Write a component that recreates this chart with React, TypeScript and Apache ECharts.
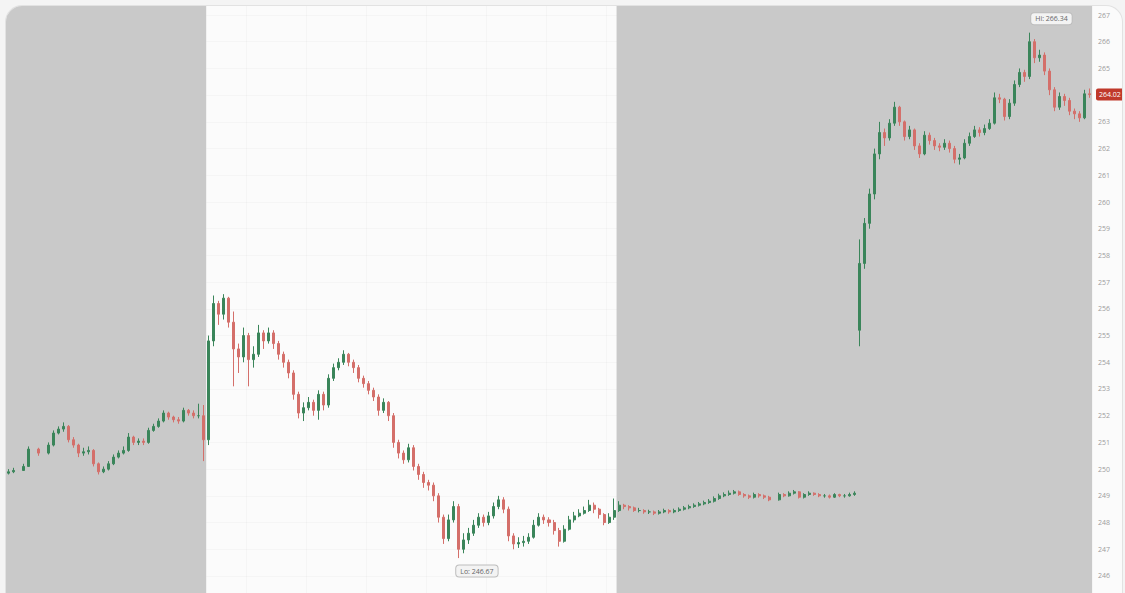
import React, { useEffect, useRef } from "react";
import * as echarts from "echarts";

// Candle closes, one per bar (null = no trade in that bar)
const closes: (number | null)[] = [
  249.9, 249.95, null, 250.1, 250.75, null, 250.6, null, 250.9, 251.35,
  251.5, 251.6, 251.1, 250.9, 250.6, 250.65, 250.7, 250.2, 249.9, 250.0,
  250.2, 250.45, 250.6, 250.7, 251.2, 251.0, 251.05, 251.0, 251.45, 251.6,
  251.8, 252.1, 251.95, 251.85, 251.8, 252.2, 252.1, 252.0, 252.0, 251.1,
  254.8, 256.2, 255.8, 256.4, 255.5, 254.5, 254.2, 255.0, 254.1, 254.3,
  255.1, 254.8, 255.1, 254.7, 254.3, 254.0, 253.6, 252.8, 252.1, 252.3,
  252.5, 252.2, 252.8, 252.4, 253.4, 253.8, 254.0, 254.3, 254.0, 253.8,
  253.4, 253.2, 252.95, 252.7, 252.2, 252.5, 252.0, 251.0, 250.6, 250.35,
  250.8, 250.1, 249.8, 249.5, 249.4, 249.0, 248.2, 247.4, 248.1, 248.6,
  247.0, 247.35, 247.6, 247.9, 248.2, 248.0, 248.25, 248.6, 248.85, 248.5,
  247.5, 247.2, 247.25, 247.3, 247.45, 247.9, 248.2, 248.1, 248.0, 247.7,
  247.3, 247.75, 248.1, 248.25, 248.35, 248.45, 248.65, 248.5, 248.3, 248.0,
  248.2, 248.45, 248.65, 248.6, 248.55, 248.45, 248.45, 248.4, 248.4, 248.35,
  248.4, 248.45, 248.4, 248.45, 248.5, 248.55, 248.6, 248.65, 248.7, 248.75,
  248.8, 248.9, 249.0, 249.05, 249.1, 249.15, 249.05, 249.0, 248.95, 249.05,
  249.0, 248.95, 248.85, null, 249.05, 249.0, 249.1, 249.15, 248.95, 249.05,
  249.1, 249.05, 249.0, 249.0, 248.95, 249.05, 249.0, 249.0, 249.05, 249.1,
  257.7, 259.2, 260.3, 261.8, 262.6, 262.4, 262.95, 263.55, 263.0, 262.45,
  262.7, 262.1, 261.8, 262.5, 262.3, 262.1, 262.05, 262.2, 262.0, 261.6,
  261.65, 262.2, 262.45, 262.7, 262.6, 262.75, 262.95, 263.9, 263.85, 263.2,
  263.7, 264.4, 264.85, 264.7, 266.0, 265.4, 265.5, 264.9, 264.2, 263.55,
  263.95, 263.8, 263.4, 263.3, 263.15, 264.05, 264.02,
];

const highs: (number | null)[] = [
  250.0, 250.05, null, 250.2, 250.85, null, 250.8, null, 251.0, 251.45,
  251.6, 251.75, 251.65, 251.2, 250.95, 250.8, 250.85, 250.75, 250.25, 250.1,
  250.3, 250.55, 250.7, 250.85, 251.35, 251.25, 251.15, 251.15, 251.55, 251.7,
  251.9, 252.2, 252.15, 252.0, 251.95, 252.3, 252.25, 252.2, 252.45, 252.4,
  255.0, 256.5, 256.3, 256.55, 256.45, 255.9, 254.7, 255.3, 255.1, 254.6,
  255.4, 255.2, 255.3, 255.2, 254.8, 254.4, 254.1, 253.7, 252.9, 252.5,
  252.7, 252.6, 252.95, 252.9, 253.55, 253.95, 254.15, 254.45, 254.35, 254.1,
  253.9, 253.5, 253.3, 253.05, 252.8, 252.65, 252.55, 252.1, 251.1, 250.7,
  250.95, 250.9, 250.2, 249.9, 249.6, 249.5, 249.1, 248.3, 248.3, 248.8,
  248.7, 247.6, 247.8, 248.1, 248.35, 248.3, 248.4, 248.75, 249.0, 248.95,
  248.6, 247.6, 247.45, 247.5, 247.6, 248.1, 248.35, 248.3, 248.2, 248.1,
  247.8, 247.9, 248.25, 248.4, 248.5, 248.6, 248.85, 248.75, 248.55, 248.35,
  248.35, 248.9, 248.8, 248.7, 248.65, 248.6, 248.55, 248.5, 248.48, 248.45,
  248.47, 248.52, 248.5, 248.52, 248.57, 248.62, 248.67, 248.72, 248.77, 248.82,
  248.88, 248.98, 249.08, 249.13, 249.2, 249.22, 249.2, 249.1, 249.05, 249.12,
  249.1, 249.05, 249.0, null, 249.12, 249.1, 249.17, 249.22, 249.18, 249.1,
  249.17, 249.13, 249.1, 249.07, 249.05, 249.1, 249.08, 249.07, 249.12, 249.17,
  258.6, 259.4, 260.5, 262.0, 263.0, 262.75, 263.1, 263.75, 263.6, 263.05,
  262.85, 262.75, 262.2, 262.65, 262.6, 262.4, 262.2, 262.35, 262.3, 262.1,
  261.8, 262.35, 262.6, 262.85, 262.8, 262.9, 263.1, 264.1, 264.05, 263.9,
  263.85, 264.55, 265.0, 264.95, 266.34, 266.1, 265.7, 265.6, 265.0, 264.3,
  264.1, 264.05, 263.9, 263.5, 263.4, 264.2, 264.25,
];

const lows: (number | null)[] = [
  249.8, 249.85, null, 249.95, 250.1, null, 250.5, null, 250.55, 250.85,
  251.3, 251.4, 251.0, 250.8, 250.45, 250.5, 250.55, 250.1, 249.8, 249.85,
  249.95, 250.15, 250.4, 250.55, 250.65, 250.9, 250.9, 250.9, 250.95, 251.4,
  251.55, 251.75, 251.85, 251.75, 251.7, 251.75, 252.0, 251.9, 251.9, 250.3,
  250.9, 254.6, 255.4, 255.6, 255.3, 253.1, 253.6, 254.0, 253.1, 253.8,
  254.2, 254.5, 254.7, 254.5, 254.1, 253.8, 253.4, 252.6, 251.9, 251.8,
  252.2, 252.0, 251.85, 252.2, 252.3, 253.3, 253.7, 253.9, 253.85, 253.6,
  253.25, 253.05, 252.8, 252.55, 252.0, 252.1, 251.8, 250.8, 250.4, 250.2,
  250.25, 249.95, 249.6, 249.3, 249.2, 248.8, 248.0, 247.2, 247.3, 248.0,
  246.67, 246.85, 247.2, 247.5, 247.8, 247.85, 247.9, 248.15, 248.5, 248.35,
  247.3, 247.0, 247.05, 247.1, 247.2, 247.4, 247.85, 247.95, 247.85, 247.55,
  247.1, 247.25, 247.7, 248.0, 248.2, 248.3, 248.4, 248.35, 248.15, 247.9,
  247.95, 248.1, 248.4, 248.5, 248.45, 248.4, 248.38, 248.33, 248.32, 248.28,
  248.3, 248.35, 248.33, 248.35, 248.4, 248.45, 248.5, 248.55, 248.6, 248.65,
  248.7, 248.75, 248.85, 248.95, 249.0, 249.05, 249.0, 248.93, 248.88, 248.9,
  248.93, 248.88, 248.8, null, 248.82, 248.95, 248.97, 249.05, 248.9, 248.9,
  249.0, 249.0, 248.95, 248.93, 248.9, 248.92, 248.95, 248.93, 248.97, 249.0,
  254.6, 257.5, 259.0, 260.1, 261.6, 262.1, 262.3, 262.85, 262.85, 262.3,
  262.35, 261.95, 261.65, 261.75, 262.15, 261.95, 261.9, 261.95, 261.85, 261.45,
  261.4, 261.6, 262.1, 262.4, 262.45, 262.5, 262.7, 262.9, 263.7, 263.05,
  263.1, 263.6, 264.3, 264.5, 264.6, 265.2, 265.25, 264.75, 264.0, 263.4,
  263.45, 263.6, 263.25, 263.1, 263.0, 263.1, 263.9,
];

// Opening prices that do not follow the previous close (session gaps)
const gapOpenIndex = [0, 170];
const gapOpenValue = [249.85, 255.2];

// Extended-hours (shaded) spans, in bar units
const extendedSessions: [number, number][] = [
  [0, 40],
  [122, 217],
];

const yMin = 245;
const yMax = 268;
const yStep = 1;
const lastPrice = 264.02;

const UP = "#3a855a";
const DOWN = "#d46f6a";

export default function App() {
  const ref = useRef<HTMLDivElement>(null);

  useEffect(() => {
    if (!ref.current) return;
    const chart = echarts.init(ref.current, null, { renderer: "svg" });

    const categories = closes.map((_, i) => String(i));
    let prev: number | null = null;
    const candles = closes.map((c, i) => {
      if (c === null) return "-";
      const g = gapOpenIndex.indexOf(i);
      const o = g >= 0 ? gapOpenValue[g] : prev ?? c;
      prev = c;
      const h = Math.max(highs[i] as number, o, c);
      const l = Math.min(lows[i] as number, o, c);
      return [o, c, l, h];
    });

    let hiIdx = 0;
    let loIdx = 0;
    highs.forEach((h, i) => {
      if (h !== null && h > (highs[hiIdx] as number)) hiIdx = i;
    });
    lows.forEach((l, i) => {
      if (l !== null && l < (lows[loIdx] as number)) loIdx = i;
    });
    const hiVal = highs[hiIdx] as number;
    const loVal = lows[loIdx] as number;

    const tagLabel = {
      show: true,
      position: "inside" as const,
      fontSize: 7,
      fontFamily: "Open Sans",
      color: "#666",
      backgroundColor: "#f3f3f3",
      borderColor: "#bdbdbd",
      borderWidth: 1,
      borderRadius: 3,
      padding: [2, 4],
    };

    chart.setOption({
      animation: false,
      grid: { left: 0, right: 30, top: 12.3, bottom: 33.3, containLabel: false },
      xAxis: [
        {
          type: "category",
          data: categories,
          boundaryGap: true,
          show: false,
        },
        {
          type: "value",
          min: 0,
          max: closes.length,
          interval: 12,
          show: true,
          axisLine: { show: false },
          axisTick: { show: false },
          axisLabel: { show: false },
          splitLine: { show: true, lineStyle: { color: "rgba(0,0,0,0.025)", width: 1 } },
        },
      ],
      yAxis: {
        type: "value",
        position: "right",
        min: yMin,
        max: yMax,
        interval: yStep,
        axisLine: { show: false },
        axisTick: { show: true, length: 3, lineStyle: { color: "#d0d0d0" } },
        axisLabel: {
          color: "#9b9b9b",
          fontSize: 7,
          fontFamily: "Open Sans",
          margin: 6,
          showMinLabel: false,
          showMaxLabel: false,
          formatter: (v: number) => (Math.abs(v - lastPrice) < 0.5 ? "" : String(v)),
        },
        splitLine: { show: true, lineStyle: { color: "rgba(0,0,0,0.025)" } },
      },
      series: [
        {
          type: "line",
          xAxisIndex: 1,
          yAxisIndex: 0,
          data: [[0, 250]],
          symbol: "none",
          lineStyle: { color: "rgba(0,0,0,0)", width: 0 },
          silent: true,
          z: 1,
          markArea: {
            silent: true,
            itemStyle: { color: "#c9c9c9" },
            data: extendedSessions.map(([a, b]) => [{ xAxis: a }, { xAxis: b }]),
          },
        },
        {
          type: "candlestick",
          data: candles,
          z: 5,
          barMaxWidth: 2.6,
          itemStyle: {
            color: UP,
            color0: DOWN,
            borderColor: UP,
            borderColor0: DOWN,
            borderWidth: 1,
          },
          markPoint: {
            symbol: "circle",
            symbolSize: 1,
            itemStyle: { color: "rgba(0,0,0,0)" },
            silent: true,
            data: [
              {
                coord: [hiIdx, hiVal],
                label: { ...tagLabel, formatter: `Hi: ${hiVal.toFixed(2)}`, offset: [22, -14] },
              },
              {
                coord: [loIdx, loVal],
                label: { ...tagLabel, formatter: `Lo: ${loVal.toFixed(2)}`, offset: [18, 13] },
              },
            ],
          },
          markLine: {
            silent: true,
            symbol: ["none", "none"],
            lineStyle: { color: "rgba(0,0,0,0)", width: 0 },
            data: [{ yAxis: lastPrice }],
            label: {
              show: true,
              position: "end",
              distance: 4,
              formatter: lastPrice.toFixed(2),
              color: "#fff",
              fontSize: 7,
              fontFamily: "Open Sans",
              backgroundColor: "#c0392b",
              borderRadius: 2,
              padding: [2.5, 3],
            },
          },
        },
      ],
    });

    return () => chart.dispose();
  }, []);

  return (
    <div
      style={{
        position: "fixed",
        left: 0,
        top: 0,
        width: "100%",
        height: "100%",
        overflow: "hidden",
        background: "#f4f4f4",
      }}
    >
      <div
        style={{
          position: "absolute",
          left: 6,
          top: 6,
          width: 1116,
          height: 640,
          borderRadius: 16,
          overflow: "hidden",
          background: "#fbfbfb",
          boxShadow: "0 0 0 1px #e2e2e2",
        }}
      >
        <div
          ref={ref}
          style={{ position: "absolute", left: 0, top: -30, width: 1116, height: 660 }}
        />
      </div>
    </div>
  );
}
